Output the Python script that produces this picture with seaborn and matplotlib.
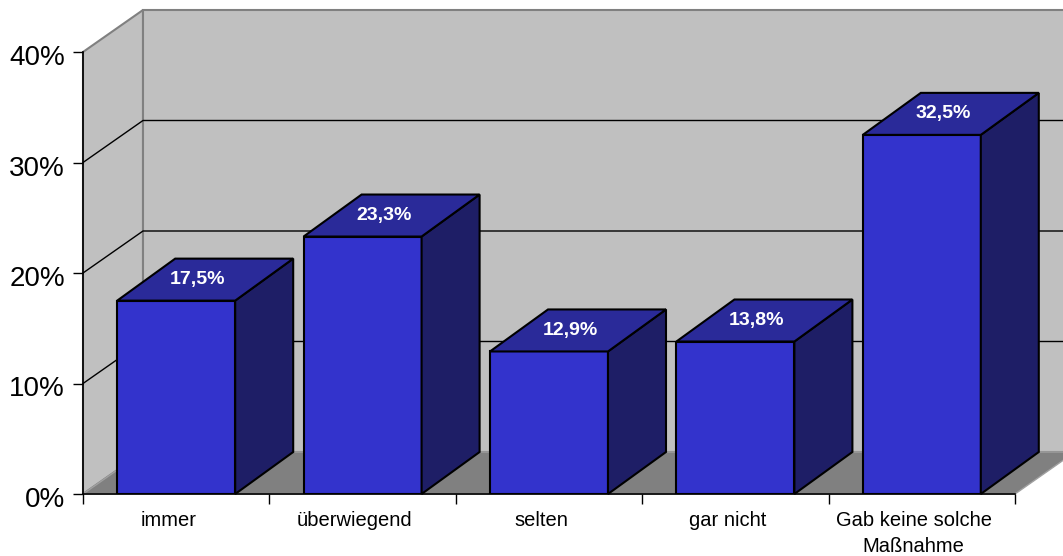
import numpy as np
import matplotlib
matplotlib.use("Agg")
import matplotlib.pyplot as plt
from matplotlib.patches import Polygon
from matplotlib.transforms import ScaledTranslation
import pandas as pd
import seaborn as sns

categories = ["immer", "überwiegend", "selten", "gar nicht", "Gab keine solche\nMaßnahme"]
values = [17.5, 23.3, 12.9, 13.8, 32.5]
value_labels = ["17,5%", "23,3%", "12,9%", "13,8%", "32,5%"]
y_ticks = [0, 10, 20, 30, 40]
y_tick_labels = ["0%", "10%", "20%", "30%", "40%"]

FRONT = "#3333CC"
TOP = "#2A2A99"
SIDE = "#1E1E66"
WALL = "#C0C0C0"
FLOOR = "#808080"
EDGE = "#808080"

sns.set_theme(style="white")
plt.rcParams["font.family"] = ["Liberation Sans", "DejaVu Sans"]

W, H = 1063, 556
fig = plt.figure(figsize=(W / 100, H / 100), dpi=100)
ax = fig.add_axes([83 / W, (H - 494) / H, 932 / W, 442 / H])
ax.patch.set_visible(False)

x0, x1 = -0.5, 4.5
ymax = 40
px_x = (x1 - x0) / 932
px_y = ymax / 442
# oblique depth of the walls and of the bars
wdx, wdy = 60 * px_x, 42 * px_y
bdx, bdy = 58 * px_x, 42 * px_y

# side wall, back wall and floor
ax.add_patch(Polygon([(x0, 0), (x0 + wdx, wdy), (x0 + wdx, ymax + wdy), (x0, ymax)],
                     closed=True, fc=WALL, ec=EDGE, lw=1.5, clip_on=False, zorder=0))
ax.add_patch(Polygon([(x0 + wdx, wdy), (x1 + wdx, wdy), (x1 + wdx, ymax + wdy), (x0 + wdx, ymax + wdy)],
                     closed=True, fc=WALL, ec=EDGE, lw=1.5, clip_on=False, zorder=0))
ax.add_patch(Polygon([(x0, 0), (x1, 0), (x1 + wdx, wdy), (x0 + wdx, wdy)],
                     closed=True, fc=FLOOR, ec="#A0A0A0", lw=1.0, clip_on=False, zorder=0.5))

# gridlines on the walls
for t in y_ticks[1:-1]:
    ax.plot([x0, x0 + wdx, x1 + wdx], [t, t + wdy, t + wdy], color="black", lw=1.0,
            clip_on=False, zorder=1)

df = pd.DataFrame({"Kategorie": categories, "Anteil": values})
sns.barplot(data=df, x="Kategorie", y="Anteil", color=FRONT, saturation=1, width=0.633,
            edgecolor="black", linewidth=1.5, ax=ax, zorder=3)

label_shift = ScaledTranslation(-8 / 100, 0, fig.dpi_scale_trans)
for bar, lab in zip(ax.containers[0], value_labels):
    xl, w, h = bar.get_x(), bar.get_width(), bar.get_height()
    xr = xl + w
    ax.add_patch(Polygon([(xr, 0), (xr + bdx, bdy), (xr + bdx, h + bdy), (xr, h)],
                         closed=True, fc=SIDE, ec="black", lw=1.5, clip_on=False, zorder=3))
    ax.add_patch(Polygon([(xl, h), (xr, h), (xr + bdx, h + bdy), (xl + bdx, h + bdy)],
                         closed=True, fc=TOP, ec="black", lw=1.5, clip_on=False, zorder=3))
    ax.text(xl + w / 2 + bdx / 2, h + bdy / 2, lab, ha="center", va="center",
            color="white", fontsize=14, fontweight="bold", zorder=5,
            transform=ax.transData + label_shift)

ax.set_xlim(x0, x1)
ax.set_ylim(0, ymax)
ax.set_xlabel("")
ax.set_ylabel("")

ax.set_yticks(y_ticks, y_tick_labels)
ax.tick_params(axis="y", left=True, length=7, width=1, color="black", direction="out",
               pad=6, labelsize=20, labelcolor="black")
ylabel_shift = ScaledTranslation(0, -3 / 100, fig.dpi_scale_trans)
for lbl in ax.get_yticklabels():
    lbl.set_transform(lbl.get_transform() + ylabel_shift)

ax.set_xticks(np.arange(x0, x1 + 0.01, 1.0))
ax.set_xticklabels([])
ax.set_xticks(range(len(categories)), categories, minor=True)
ax.tick_params(axis="x", which="major", bottom=True, length=7, width=1, color="black",
               direction="out")
ax.tick_params(axis="x", which="minor", bottom=True, length=0, labelsize=14.5,
               labelcolor="black", pad=12)
for lbl in ax.get_xticklabels(minor=True):
    lbl.set_transform(lbl.get_transform() + label_shift)
    lbl.set_linespacing(1.5)

for side in ("top", "right"):
    ax.spines[side].set_visible(False)
for side in ("left", "bottom"):
    ax.spines[side].set_color("black")
    ax.spines[side].set_linewidth(1.2)
    ax.spines[side].set_zorder(4)

fig.savefig("out.png", dpi=100)
